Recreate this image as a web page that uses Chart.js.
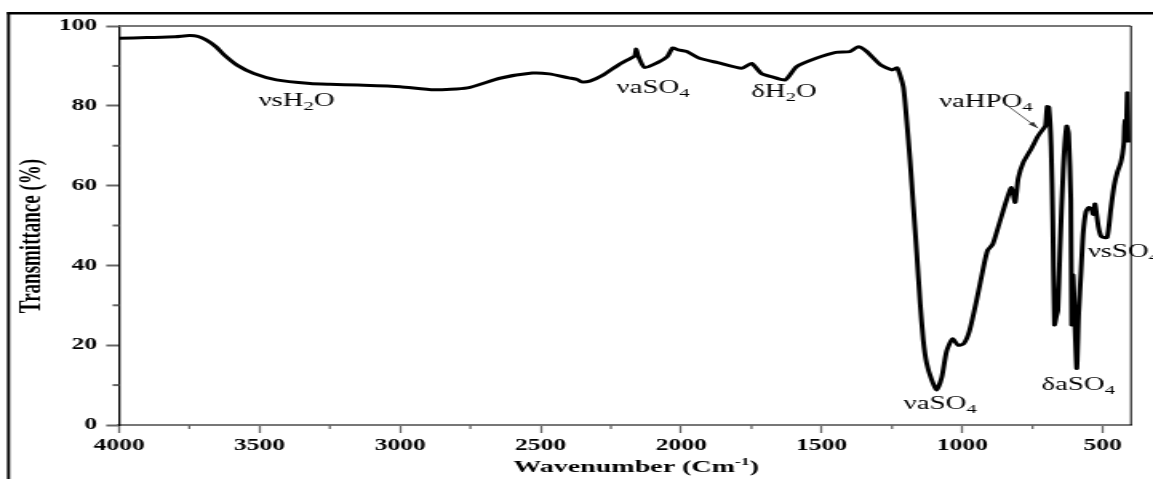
<!DOCTYPE html>
<html>
<head>
  <meta charset="utf-8" />
  <title>FTIR Transmittance</title>
  <script src="https://cdn.jsdelivr.net/npm/chart.js@4.4.1/dist/chart.umd.min.js"></script>
  <style>
    html, body {
      margin: 0;
      padding: 0;
      background: #fff;
      overflow: hidden;
    }
    /* the chart is laid out on a narrower canvas and stretched sideways */
    #wrap {
      width: 721px;
      height: 479px;
      transform: scaleX(1.5992);
      transform-origin: 0 0;
    }
    canvas { display: block; }
  </style>
</head>
<body>
  <div id="wrap">
    <canvas id="ftir" width="721" height="479" style="width:721px;height:479px"></canvas>
  </div>

  <script>
    const wavenumbers = [
      4000, 3900, 3800, 3750, 3720, 3690, 3655, 3625, 3580, 3520, 3440, 3320, 3250, 3150,
      3000, 2880, 2760, 2645, 2530, 2470, 2400, 2370, 2355, 2325, 2280, 2220, 2180, 2165,
      2160, 2152, 2130, 2085, 2050, 2030, 2010, 1980, 1935, 1870, 1785, 1750, 1715, 1680,
      1630, 1590, 1520, 1450, 1400, 1370, 1340, 1290, 1250, 1232, 1210, 1198, 1186, 1174,
      1162, 1150, 1139, 1127, 1109, 1091, 1073, 1056, 1035, 1015, 995, 975, 950, 925,
      910, 892, 872, 842, 825, 812, 801, 783, 755, 730, 712, 704, 698, 692, 684,
      678, 672, 666, 660, 653, 641, 629, 622, 614, 611, 606, 593, 586, 578, 570,
      560, 550, 540, 534, 528, 516, 505, 485, 472, 460, 448, 437, 430, 425, 422,
      418, 413, 410
    ];
    const transmittance = [
      96.9, 97.1, 97.3, 97.6, 97.4, 96.5, 94.8, 92.7, 90.2, 88.1, 86.5, 85.6, 85.4, 85.2,
      84.8, 84.0, 84.5, 86.9, 88.2, 88.0, 87.0, 86.6, 86.0, 86.2, 87.6, 90.4, 91.9, 92.5,
      94.2, 92.3, 89.6, 90.8, 92.3, 94.5, 94.0, 93.6, 91.9, 90.8, 89.4, 90.6, 88.1, 87.3,
      86.5, 89.8, 91.9, 93.4, 93.6, 94.8, 93.6, 90.2, 89.0, 89.5, 84.8, 76.4, 66.4, 54.7,
      43.0, 30.5, 21.3, 15.5, 11.3, 8.8, 12.0, 18.5, 21.6, 20.0, 20.4, 23.5, 31.0, 39.5,
      43.8, 45.3, 49.7, 56.5, 59.5, 55.8, 61.8, 65.8, 69.2, 72.5, 74.2, 75.0, 79.8, 79.6, 70.0,
      51.0, 25.1, 27.0, 28.8, 43.0, 63.9, 74.9, 73.0, 56.4, 25.1, 37.6, 14.2, 28.0, 38.0, 48.1,
      53.5, 54.5, 54.0, 52.8, 55.4, 49.7, 47.2, 47.0, 54.0, 60.0, 63.5, 65.6, 68.0, 71.0, 76.4,
      71.2, 83.3, 70.8
    ];

    const xMajorTicks = [4000, 3500, 3000, 2500, 2000, 1500, 1000, 500];
    const xMinorTicks = [3750, 3250, 2750, 2250, 1750, 1250, 750];
    const yMajorTicks = [0, 20, 40, 60, 80, 100];
    const yMinorTicks = [10, 30, 50, 70, 90];

    // band assignments: "_" marks a subscript digit
    const bandNames = ['νsH_2O', 'νaSO_4', 'δH_2O', 'νaHPO_4', 'νsSO_4', 'δaSO_4', 'νaSO_4'];
    const bandWavenumbers = [3368, 2100, 1634, 916, 427, 588, 1079];
    const bandLevels = [80.0, 83.1, 82.1, 79.8, 42.2, 8.8, 4.0];

    // arrow from the HPO4 label down to its shoulder
    const arrowFrom = [848, 80.5];
    const arrowTo = [731, 74.4];

    const SERIF = "'Liberation Serif', 'Times New Roman', serif";

    // draw a run of [text, size, weight, dy] pieces centred on cx
    function drawPieces(ctx, pieces, cx, y) {
      let total = 0;
      pieces.forEach(p => {
        ctx.font = `${p[2]} ${p[1]}px ${SERIF}`;
        p.w = ctx.measureText(p[0]).width;
        total += p.w;
      });
      let x = cx - total / 2;
      pieces.forEach(p => {
        ctx.font = `${p[2]} ${p[1]}px ${SERIF}`;
        ctx.fillText(p[0], x, y + p[3]);
        x += p.w;
      });
    }

    function bandPieces(name) {
      return name.split(/_(.)/).map((t, i) => i % 2 ? [t, 13, 'normal', 4] : [t, 18, 'normal', 0]);
    }

    const decorations = {
      id: 'decorations',
      afterDatasetsDraw(chart) {
        const ctx = chart.ctx;
        const xs = chart.scales.x, ys = chart.scales.y;
        ctx.save();
        ctx.fillStyle = '#000';
        ctx.textAlign = 'left';
        ctx.textBaseline = 'alphabetic';
        bandNames.forEach((name, i) => {
          drawPieces(ctx, bandPieces(name), xs.getPixelForValue(bandWavenumbers[i]), ys.getPixelForValue(bandLevels[i]));
        });

        // arrow
        const x0 = xs.getPixelForValue(arrowFrom[0]), y0 = ys.getPixelForValue(arrowFrom[1]);
        const x1 = xs.getPixelForValue(arrowTo[0]), y1 = ys.getPixelForValue(arrowTo[1]);
        ctx.strokeStyle = '#333';
        ctx.lineWidth = 0.8;
        ctx.beginPath();
        ctx.moveTo(x0, y0);
        ctx.lineTo(x1, y1);
        ctx.stroke();
        const a = Math.atan2(y1 - y0, x1 - x0);
        ctx.fillStyle = '#333';
        ctx.beginPath();
        ctx.moveTo(x1, y1);
        ctx.lineTo(x1 - 7 * Math.cos(a - 0.3), y1 - 7 * Math.sin(a - 0.3));
        ctx.lineTo(x1 - 7 * Math.cos(a + 0.3), y1 - 7 * Math.sin(a + 0.3));
        ctx.closePath();
        ctx.fill();
        ctx.restore();
      },
      afterDraw(chart) {
        const ctx = chart.ctx;
        const {left, right, top, bottom} = chart.chartArea;
        const xs = chart.scales.x, ys = chart.scales.y;
        ctx.save();

        // top and right edges of the plot box
        ctx.fillStyle = '#777';
        ctx.fillRect(left, top - 1, right - left, 2);
        ctx.fillStyle = '#000';
        ctx.fillRect(right - 0.5, top, 1, bottom - top);

        // minor ticks
        ctx.strokeStyle = '#666';
        ctx.lineWidth = 1.3;
        xMinorTicks.forEach(v => {
          const x = xs.getPixelForValue(v);
          ctx.beginPath();
          ctx.moveTo(x, bottom);
          ctx.lineTo(x, bottom + 4);
          ctx.stroke();
        });
        ctx.lineWidth = 2;
        yMinorTicks.forEach(v => {
          const y = ys.getPixelForValue(v);
          ctx.beginPath();
          ctx.moveTo(left - 4, y);
          ctx.lineTo(left, y);
          ctx.stroke();
        });

        // outer frame (left and top)
        ctx.fillStyle = '#000';
        ctx.fillRect(4.4, 12, 1.9, chart.height);
        ctx.fillRect(4.4, 12, chart.width, 2.5);

        // axis titles
        ctx.fillStyle = '#000';
        ctx.textBaseline = 'alphabetic';
        ctx.textAlign = 'left';
        drawPieces(ctx, [
          ['Wavenumber (Cm', 17.5, 'bold', 0],
          ['-1', 11, 'bold', -7],
          [')', 17.5, 'bold', 0]
        ], (left + right) / 2 + 7, 472);

        ctx.translate(20, 236);
        ctx.rotate(-Math.PI / 2);
        ctx.textAlign = 'center';
        ctx.textBaseline = 'middle';
        ctx.font = `bold 19px ${SERIF}`;
        ctx.fillText('Transmittance (%)', 0, 0);
        ctx.restore();
      }
    };

    new Chart(document.getElementById('ftir'), {
      type: 'line',
      data: {
        datasets: [{
          data: wavenumbers.map((w, i) => ({ x: w, y: transmittance[i] })),
          borderColor: '#000',
          borderWidth: 3,
          pointRadius: 0,
          tension: 0.2,
          fill: false
        }]
      },
      options: {
        responsive: false,
        animation: false,
        devicePixelRatio: 1,
        layout: { padding: { top: 26, right: 13.8, left: 0, bottom: 0 } },
        plugins: {
          legend: { display: false },
          tooltip: { enabled: false }
        },
        scales: {
          x: {
            type: 'linear',
            reverse: true,
            min: 400,
            max: 4000,
            afterBuildTicks: s => { s.ticks = xMajorTicks.map(v => ({ value: v })); },
            afterFit: s => { s.height = 54; },
            grid: { drawOnChartArea: false, tickLength: 8, tickWidth: 1.3, tickColor: '#666' },
            border: { color: '#777', width: 2 },
            ticks: {
              color: '#000',
              font: { family: SERIF, size: 16, weight: 'bold' },
              padding: 3,
              maxRotation: 0,
              autoSkip: false,
              callback: v => String(v)
            }
          },
          y: {
            min: 0,
            max: 100,
            afterBuildTicks: s => { s.ticks = yMajorTicks.map(v => ({ value: v })); },
            afterFit: s => { s.width = 74.4; },
            grid: { drawOnChartArea: false, tickLength: 8, tickWidth: 2, tickColor: '#666' },
            border: { color: '#000', width: 1.3 },
            ticks: {
              color: '#000',
              font: { family: SERIF, size: 16, weight: 'bold' },
              padding: 5.6,
              callback: v => String(v)
            }
          }
        }
      },
      plugins: [decorations]
    });
  </script>
</body>
</html>
